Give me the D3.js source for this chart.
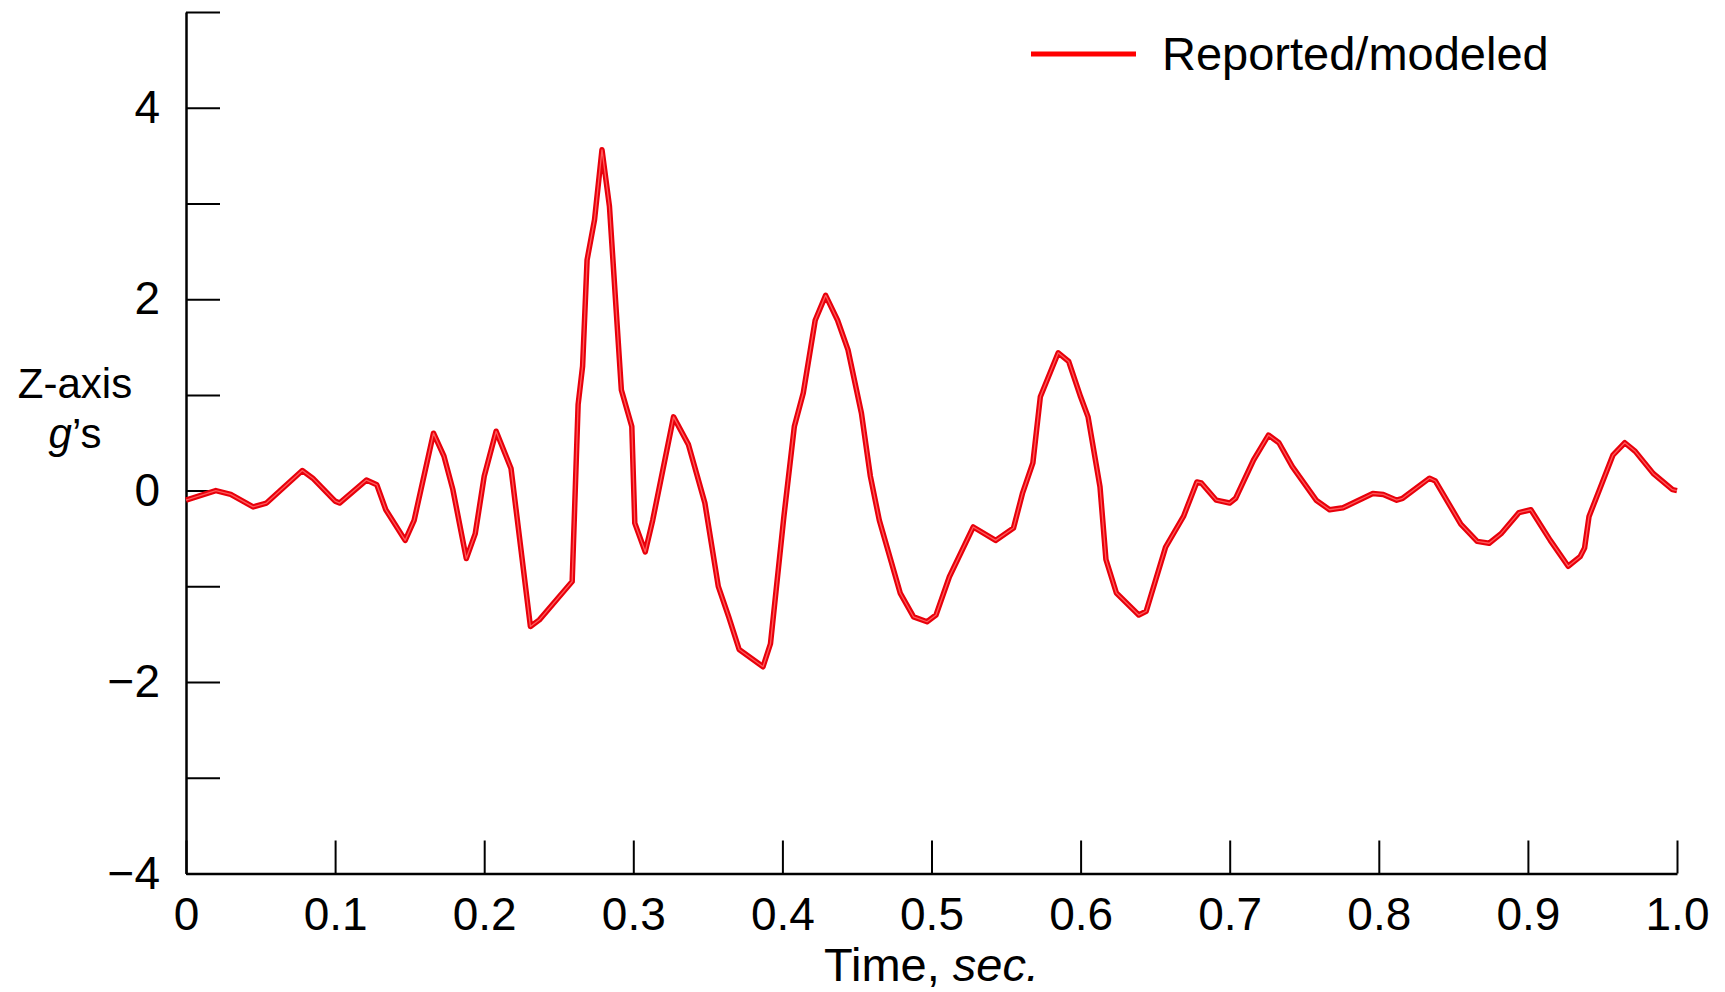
<!DOCTYPE html>
<html>
<head>
<meta charset="utf-8">
<script src="https://cdn.jsdelivr.net/npm/d3@7"></script>
<style>
  body { margin: 0; background: #fff; }
  svg { display: block; font-family: "Liberation Sans", Arial, Helvetica, sans-serif; }
</style>
</head>
<body>
<svg width="1725" height="992"></svg>
<script>
// time (sec) and Z-axis acceleration (g's)
const times = [
  0.000, 0.020, 0.030, 0.045, 0.054, 0.078, 0.085, 0.100, 0.103, 0.121,
  0.128, 0.134, 0.147, 0.153, 0.166, 0.173, 0.179, 0.188, 0.194, 0.200,
  0.208, 0.218, 0.231, 0.237, 0.259, 0.263, 0.266, 0.269, 0.274, 0.279,
  0.284, 0.292, 0.299, 0.301, 0.308, 0.313, 0.327, 0.337, 0.348, 0.357,
  0.364, 0.371, 0.387, 0.392, 0.401, 0.408, 0.414, 0.422, 0.429, 0.437,
  0.444, 0.453, 0.459, 0.465, 0.479, 0.488, 0.497, 0.503, 0.512, 0.528,
  0.543, 0.555, 0.561, 0.568, 0.573, 0.585, 0.592, 0.600, 0.605, 0.613,
  0.617, 0.624, 0.639, 0.644, 0.657, 0.669, 0.678, 0.681, 0.691, 0.700,
  0.704, 0.716, 0.726, 0.733, 0.742, 0.758, 0.767, 0.776, 0.796, 0.803,
  0.812, 0.816, 0.834, 0.838, 0.855, 0.866, 0.874, 0.882, 0.894, 0.902,
  0.915, 0.927, 0.935, 0.938, 0.941, 0.948, 0.957, 0.965, 0.972, 0.984,
  0.997, 1.000
];
const gValues = [
  -0.10, 0.00, -0.04, -0.17, -0.13, 0.21, 0.13, -0.11, -0.13, 0.11,
  0.06, -0.20, -0.52, -0.31, 0.60, 0.36, 0.01, -0.71, -0.45, 0.15,
  0.62, 0.23, -1.42, -1.35, -0.95, 0.90, 1.30, 2.41, 2.83, 3.56,
  2.97, 1.05, 0.67, -0.34, -0.64, -0.31, 0.77, 0.48, -0.13, -1.00,
  -1.32, -1.66, -1.84, -1.60, -0.27, 0.67, 1.02, 1.78, 2.04, 1.78,
  1.47, 0.81, 0.15, -0.31, -1.07, -1.32, -1.37, -1.30, -0.90, -0.38,
  -0.52, -0.39, -0.03, 0.29, 0.98, 1.44, 1.35, 0.98, 0.77, 0.04,
  -0.72, -1.07, -1.30, -1.26, -0.59, -0.27, 0.09, 0.08, -0.10, -0.13,
  -0.08, 0.32, 0.58, 0.50, 0.25, -0.10, -0.20, -0.18, -0.03, -0.04,
  -0.10, -0.08, 0.13, 0.10, -0.35, -0.53, -0.55, -0.45, -0.23, -0.20,
  -0.52, -0.79, -0.69, -0.60, -0.27, 0.01, 0.37, 0.50, 0.41, 0.18,
  0.01, 0.00
];
const xTicks = [0, 0.1, 0.2, 0.3, 0.4, 0.5, 0.6, 0.7, 0.8, 0.9, 1.0];
const yTicks = [-4, -3, -2, -1, 0, 1, 2, 3, 4, 5];
const seriesName = "Reported/modeled";

const data = times.map((t, i) => ({ t: t, g: gValues[i] }));

const svg = d3.select("svg");
const tickFont = 46;

const x = d3.scaleLinear().domain([0, 1]).range([186, 1677]);
const y = d3.scaleLinear().domain([-4, 5]).range([873.5, 12]);

// y axis, ticks pointing into the plot
const yAxis = svg.append("g")
  .attr("transform", `translate(${x(0)},0)`)
  .call(d3.axisLeft(y)
    .tickValues(yTicks)
    .tickSizeInner(-34)
    .tickSizeOuter(0)
    .tickPadding(26)
    .tickFormat(d => (d % 2 === 0 && d !== 5) ? d3.format("d")(d) : ""));

// x axis
const xAxis = svg.append("g")
  .attr("transform", `translate(0,${y(-4)})`)
  .call(d3.axisBottom(x)
    .tickValues(xTicks)
    .tickSizeInner(-33)
    .tickSizeOuter(0)
    .tickPadding(24)
    .tickFormat(d => d === 0 ? "0" : d3.format(".1f")(d)));

[yAxis, xAxis].forEach(ax => {
  ax.select(".domain").attr("stroke", "#000").attr("stroke-width", 2.5);
  ax.selectAll(".tick line").attr("stroke", "#000").attr("stroke-width", 2);
  ax.selectAll(".tick text")
    .attr("fill", "#000")
    .style("font-size", tickFont + "px")
    .style("font-family", "'Liberation Sans', Arial, Helvetica, sans-serif");
});

// data line
const line = d3.line().x(d => x(d.t)).y(d => y(d.g));

svg.append("path")
  .datum(data)
  .attr("fill", "none")
  .attr("stroke", "#e8000b")
  .attr("stroke-width", 5.5)
  .attr("stroke-linejoin", "round")
  .attr("d", line);

svg.append("path")
  .datum(data)
  .attr("fill", "none")
  .attr("stroke", "#ff5a5a")
  .attr("stroke-width", 1.3)
  .attr("stroke-linejoin", "round")
  .attr("d", line);

// axis titles
const xTitle = svg.append("text")
  .attr("x", (x(0) + x(1)) / 2)
  .attr("y", 981)
  .attr("text-anchor", "middle")
  .style("font-size", "47px");
xTitle.append("tspan").text("Time, ");
xTitle.append("tspan").style("font-style", "italic").text("sec.");

svg.append("text")
  .attr("x", 75)
  .attr("y", 398)
  .attr("text-anchor", "middle")
  .style("font-size", "42px")
  .text("Z-axis");

const gs = svg.append("text")
  .attr("x", 75)
  .attr("y", 448)
  .attr("text-anchor", "middle")
  .style("font-size", "42px");
gs.append("tspan").style("font-style", "italic").text("g");
gs.append("tspan").text("\u2019s");

// legend
svg.append("line")
  .attr("x1", 1031).attr("x2", 1136)
  .attr("y1", 54).attr("y2", 54)
  .attr("stroke", "#ff0000")
  .attr("stroke-width", 5);

svg.append("text")
  .attr("x", 1162)
  .attr("y", 70)
  .style("font-size", "47px")
  .text(seriesName);
</script>
</body>
</html>
